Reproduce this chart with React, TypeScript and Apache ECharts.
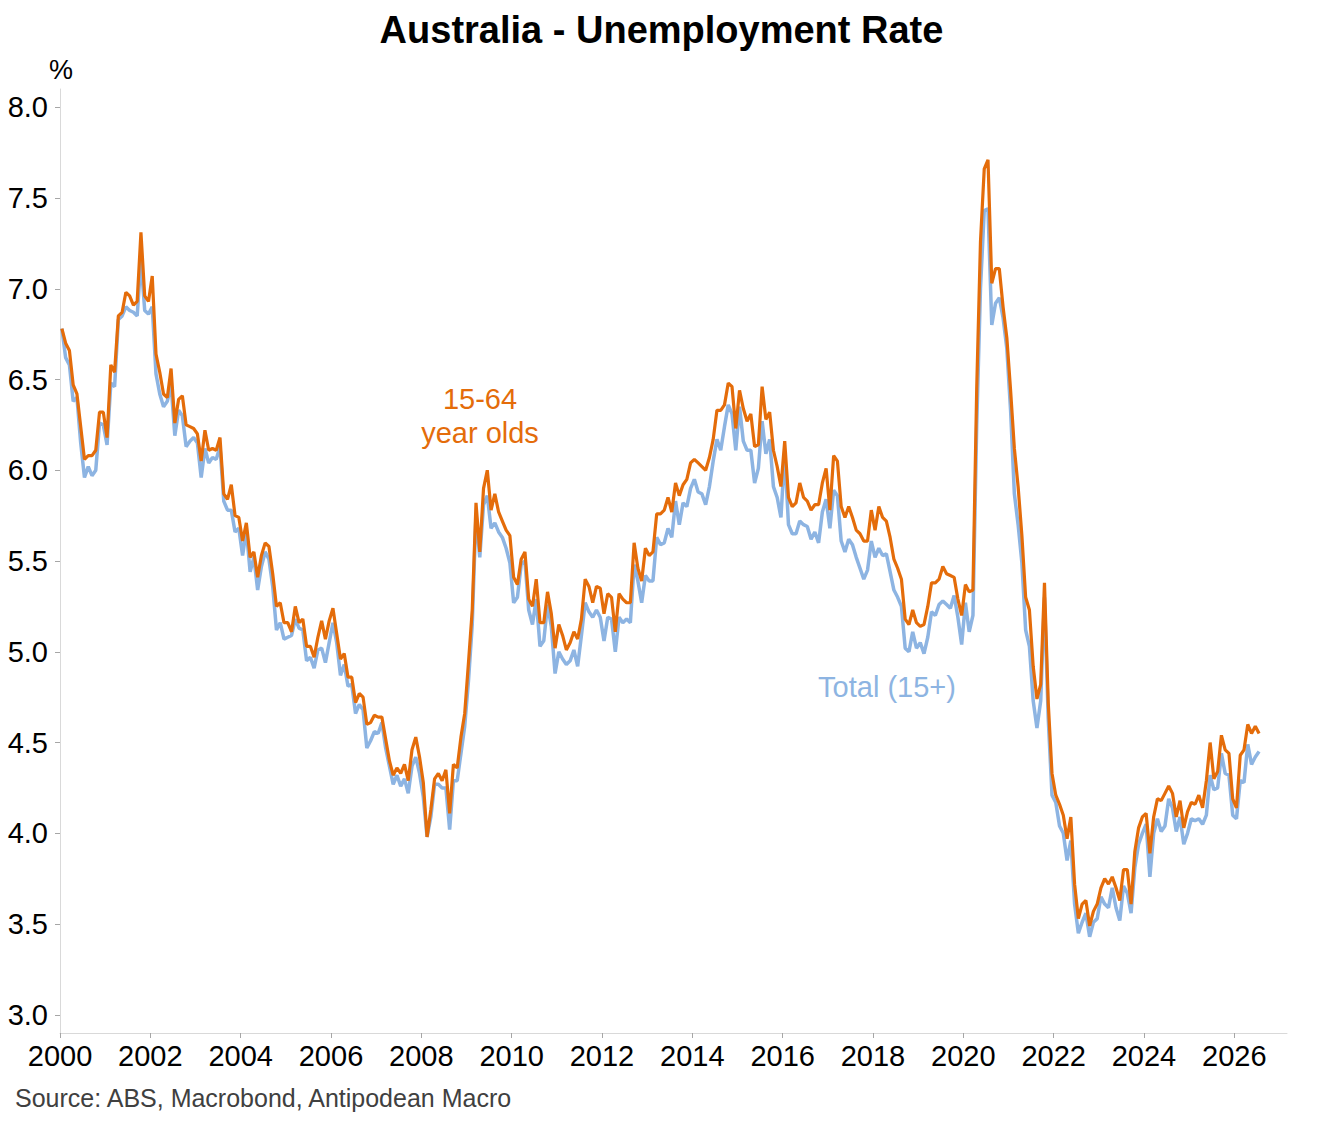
import React, { useEffect, useRef } from "react";
import * as echarts from "echarts";

// Monthly data, Jan 2000 .. Jul 2026 (%)
const startYear = 2000;

const ages15to64 = [
  // 2000
  6.78, 6.70, 6.66, 6.47, 6.42, 6.24, 6.06, 6.08, 6.08, 6.11, 6.32, 6.32,
  // 2001
  6.18, 6.58, 6.54, 6.85, 6.87, 6.98, 6.96, 6.91, 6.93, 7.31, 6.96, 6.93,
  // 2002
  7.07, 6.64, 6.54, 6.42, 6.40, 6.56, 6.26, 6.39, 6.41, 6.25, 6.24, 6.23,
  // 2003
  6.20, 6.05, 6.22, 6.11, 6.12, 6.11, 6.18, 5.87, 5.84, 5.92, 5.75, 5.74,
  // 2004
  5.61, 5.71, 5.52, 5.55, 5.41, 5.53, 5.60, 5.58, 5.43, 5.25, 5.27, 5.16,
  // 2005
  5.16, 5.11, 5.25, 5.16, 5.18, 5.03, 5.03, 4.97, 5.08, 5.17, 5.07, 5.17,
  // 2006
  5.24, 5.10, 4.96, 4.99, 4.86, 4.86, 4.72, 4.77, 4.75, 4.60, 4.61, 4.65,
  // 2007
  4.64, 4.64, 4.52, 4.40, 4.32, 4.36, 4.33, 4.38, 4.29, 4.46, 4.53, 4.42,
  // 2008
  4.28, 3.98, 4.13, 4.30, 4.33, 4.29, 4.35, 4.11, 4.38, 4.36, 4.53, 4.66,
  // 2009
  4.94, 5.23, 5.82, 5.55, 5.90, 6.00, 5.78, 5.87, 5.77, 5.72, 5.67, 5.64,
  // 2010
  5.41, 5.37, 5.51, 5.55, 5.29, 5.25, 5.40, 5.16, 5.16, 5.33, 5.21, 5.02,
  // 2011
  5.15, 5.09, 5.01, 5.05, 5.11, 5.07, 5.18, 5.40, 5.36, 5.27, 5.36, 5.35,
  // 2012
  5.21, 5.32, 5.30, 5.11, 5.32, 5.29, 5.27, 5.27, 5.60, 5.46, 5.39, 5.57,
  // 2013
  5.53, 5.55, 5.76, 5.76, 5.78, 5.85, 5.77, 5.93, 5.86, 5.92, 5.95, 6.04,
  // 2014
  6.06, 6.04, 6.02, 6.00, 6.07, 6.17, 6.33, 6.33, 6.36, 6.48, 6.46, 6.23,
  // 2015
  6.44, 6.34, 6.27, 6.31, 6.13, 6.14, 6.46, 6.28, 6.32, 6.11, 6.02, 5.91,
  // 2016
  6.16, 5.85, 5.80, 5.82, 5.93, 5.85, 5.83, 5.78, 5.81, 5.81, 5.93, 6.01,
  // 2017
  5.78, 6.08, 6.05, 5.80, 5.74, 5.80, 5.74, 5.67, 5.65, 5.61, 5.61, 5.78,
  // 2018
  5.67, 5.80, 5.74, 5.72, 5.63, 5.51, 5.46, 5.40, 5.18, 5.15, 5.23, 5.16,
  // 2019
  5.14, 5.15, 5.25, 5.38, 5.38, 5.40, 5.47, 5.43, 5.42, 5.41, 5.29, 5.20,
  // 2020
  5.37, 5.33, 5.34, 6.45, 7.26, 7.66, 7.71, 7.03, 7.11, 7.11, 6.90, 6.73,
  // 2021
  6.44, 6.12, 5.91, 5.64, 5.30, 5.23, 4.92, 4.74, 4.82, 5.38, 4.72, 4.33,
  // 2022
  4.21, 4.16, 4.10, 3.97, 4.09, 3.72, 3.53, 3.61, 3.63, 3.49, 3.57, 3.61,
  // 2023
  3.70, 3.75, 3.72, 3.76, 3.70, 3.63, 3.80, 3.80, 3.61, 3.90, 4.03, 4.09,
  // 2024
  4.11, 3.89, 4.09, 4.19, 4.18, 4.22, 4.26, 4.22, 4.09, 4.18, 4.03, 4.12,
  // 2025
  4.17, 4.16, 4.21, 4.14, 4.29, 4.50, 4.30, 4.34, 4.54, 4.46, 4.44, 4.19,
  // 2026
  4.14, 4.43, 4.46, 4.60, 4.55, 4.59, 4.55,
];

const total15plus = [
  // 2000
  6.78, 6.62, 6.58, 6.38, 6.40, 6.15, 5.96, 6.02, 5.97, 6.00, 6.26, 6.25,
  // 2001
  6.14, 6.48, 6.46, 6.83, 6.85, 6.90, 6.88, 6.87, 6.85, 7.16, 6.88, 6.86,
  // 2002
  6.90, 6.53, 6.42, 6.35, 6.38, 6.47, 6.19, 6.33, 6.30, 6.13, 6.16, 6.18,
  // 2003
  6.15, 5.96, 6.12, 6.04, 6.07, 6.06, 6.13, 5.83, 5.78, 5.78, 5.66, 5.68,
  // 2004
  5.53, 5.67, 5.44, 5.52, 5.34, 5.47, 5.55, 5.51, 5.36, 5.12, 5.16, 5.07,
  // 2005
  5.08, 5.09, 5.18, 5.13, 5.12, 4.95, 4.97, 4.91, 5.01, 5.02, 4.94, 5.05,
  // 2006
  5.16, 5.05, 4.87, 4.93, 4.81, 4.82, 4.66, 4.71, 4.68, 4.47, 4.51, 4.56,
  // 2007
  4.55, 4.61, 4.47, 4.37, 4.27, 4.32, 4.26, 4.30, 4.22, 4.37, 4.42, 4.33,
  // 2008
  4.20, 3.98, 4.09, 4.27, 4.27, 4.25, 4.25, 4.02, 4.29, 4.29, 4.44, 4.59,
  // 2009
  4.84, 5.15, 5.76, 5.52, 5.81, 5.86, 5.68, 5.71, 5.66, 5.63, 5.57, 5.49,
  // 2010
  5.27, 5.30, 5.48, 5.50, 5.23, 5.15, 5.29, 5.03, 5.06, 5.26, 5.14, 4.88,
  // 2011
  5.00, 4.96, 4.93, 4.95, 5.01, 4.92, 5.09, 5.27, 5.22, 5.19, 5.23, 5.19,
  // 2012
  5.06, 5.19, 5.18, 5.00, 5.19, 5.16, 5.18, 5.16, 5.48, 5.39, 5.27, 5.42,
  // 2013
  5.39, 5.39, 5.63, 5.59, 5.60, 5.68, 5.63, 5.83, 5.70, 5.82, 5.80, 5.90,
  // 2014
  5.95, 5.88, 5.87, 5.81, 5.91, 6.05, 6.17, 6.11, 6.24, 6.36, 6.31, 6.11,
  // 2015
  6.35, 6.16, 6.11, 6.11, 5.93, 6.01, 6.27, 6.09, 6.17, 5.91, 5.85, 5.74,
  // 2016
  6.10, 5.70, 5.65, 5.65, 5.72, 5.70, 5.69, 5.62, 5.66, 5.60, 5.77, 5.84,
  // 2017
  5.68, 5.89, 5.86, 5.61, 5.55, 5.62, 5.59, 5.52, 5.46, 5.40, 5.45, 5.61,
  // 2018
  5.52, 5.57, 5.53, 5.54, 5.44, 5.34, 5.30, 5.25, 5.02, 5.00, 5.11, 5.02,
  // 2019
  5.05, 4.99, 5.08, 5.22, 5.20, 5.26, 5.28, 5.26, 5.24, 5.31, 5.19, 5.04,
  // 2020
  5.27, 5.11, 5.20, 6.25, 7.00, 7.43, 7.44, 6.80, 6.92, 6.95, 6.84, 6.67,
  // 2021
  6.33, 5.87, 5.70, 5.49, 5.12, 5.03, 4.73, 4.58, 4.73, 5.30, 4.63, 4.21,
  // 2022
  4.17, 4.04, 4.00, 3.85, 3.96, 3.61, 3.45, 3.51, 3.56, 3.43, 3.51, 3.53,
  // 2023
  3.65, 3.61, 3.59, 3.70, 3.59, 3.52, 3.71, 3.67, 3.56, 3.81, 3.94, 4.00,
  // 2024
  4.05, 3.76, 4.00, 4.08, 4.01, 4.04, 4.19, 4.14, 4.01, 4.09, 3.94, 4.00,
  // 2025
  4.08, 4.07, 4.08, 4.05, 4.10, 4.32, 4.24, 4.25, 4.44, 4.33, 4.32, 4.10,
  // 2026
  4.08, 4.29, 4.28, 4.49, 4.38, 4.42, 4.45,
];

const xTickStart = 2000;
const xTickEnd = 2026;
const xTickStep = 2;
const yTickMin = 3.0;
const yTickMax = 8.0;
const yTickStep = 0.5;

const titleText = "Australia - Unemployment Rate";
const sourceText = "Source: ABS, Macrobond, Antipodean Macro";
const unitText = "%";
const label1564 = ["15-64", "year olds"];
const labelTotal = "Total (15+)";

const ORANGE = "#E46C0A";
const BLUE = "#8DB4E2";
const FONT = "'Liberation Sans', Arial, Helvetica, sans-serif";

// mid-month position in decimal years
const toPoints = (vals: number[]) =>
  vals.map((v, i) => [startYear + (i + 0.5) / 12, v]);

export default function App() {
  const ref = useRef<HTMLDivElement>(null);

  useEffect(() => {
    if (!ref.current) return;
    const chart = echarts.init(ref.current, undefined, { renderer: "svg" });

    const axisColor = "#D9D9D9";
    const tickColor = "#A6A6A6";

    const option: any = {
      animation: false,
      backgroundColor: "#ffffff",
      title: {
        text: titleText,
        left: "center",
        top: 6,
        textStyle: {
          fontFamily: FONT,
          fontSize: 38,
          fontWeight: "bold",
          color: "#000000",
        },
      },
      grid: [
        { left: 60, right: 36, top: 89, bottom: 89 },
        { left: 60, top: 107.3, width: 1174.3, height: 907.7 },
      ],
      xAxis: [
        {
          type: "value",
          gridIndex: 0,
          min: 2000,
          max: 2027.16,
          axisLine: { show: true, lineStyle: { color: axisColor, width: 1 } },
          axisTick: { show: false },
          axisLabel: { show: false },
          splitLine: { show: false },
        },
        {
          type: "value",
          gridIndex: 1,
          min: xTickStart,
          max: xTickEnd,
          interval: xTickStep,
          position: "bottom",
          offset: 18,
          axisLine: { show: false },
          axisTick: { show: true, length: 5, lineStyle: { color: tickColor } },
          axisLabel: {
            show: true,
            margin: 8,
            fontFamily: FONT,
            fontSize: 29,
            color: "#000000",
            formatter: (v: number) => String(Math.round(v)),
          },
          splitLine: { show: false },
        },
      ],
      yAxis: [
        {
          type: "value",
          gridIndex: 0,
          min: 2.9,
          max: 8.1,
          axisLine: { show: true, lineStyle: { color: axisColor, width: 1 } },
          axisTick: { show: false },
          axisLabel: { show: false },
          splitLine: { show: false },
        },
        {
          type: "value",
          gridIndex: 1,
          min: yTickMin,
          max: yTickMax,
          interval: yTickStep,
          axisLine: { show: false },
          axisTick: { show: true, length: 5, lineStyle: { color: tickColor } },
          axisLabel: {
            show: true,
            margin: 12,
            fontFamily: FONT,
            fontSize: 29,
            color: "#000000",
            formatter: (v: number) => v.toFixed(1),
          },
          splitLine: { show: false },
        },
      ],
      series: [
        {
          name: labelTotal,
          type: "line",
          xAxisIndex: 0,
          yAxisIndex: 0,
          data: toPoints(total15plus),
          symbol: "none",
          showSymbol: false,
          lineStyle: { color: BLUE, width: 3.5 },
          z: 2,
        },
        {
          name: label1564.join(" "),
          type: "line",
          xAxisIndex: 0,
          yAxisIndex: 0,
          data: toPoints(ages15to64),
          symbol: "none",
          showSymbol: false,
          lineStyle: { color: ORANGE, width: 3.2 },
          z: 3,
        },
        {
          type: "line",
          xAxisIndex: 1,
          yAxisIndex: 1,
          data: [],
          silent: true,
        },
      ],
      graphic: [
        {
          type: "text",
          x: 61,
          y: 70,
          style: {
            text: unitText,
            fontFamily: FONT,
            fontSize: 27,
            fill: "#000000",
            textAlign: "center",
            textVerticalAlign: "middle",
          },
        },
        {
          type: "text",
          x: 480,
          y: 399,
          style: {
            text: label1564[0],
            fontFamily: FONT,
            fontSize: 29,
            fill: ORANGE,
            textAlign: "center",
            textVerticalAlign: "middle",
          },
        },
        {
          type: "text",
          x: 480,
          y: 433,
          style: {
            text: label1564[1],
            fontFamily: FONT,
            fontSize: 29,
            fill: ORANGE,
            textAlign: "center",
            textVerticalAlign: "middle",
          },
        },
        {
          type: "text",
          x: 887,
          y: 687,
          style: {
            text: labelTotal,
            fontFamily: FONT,
            fontSize: 29,
            fill: BLUE,
            textAlign: "center",
            textVerticalAlign: "middle",
          },
        },
        {
          type: "text",
          x: 15,
          y: 1098,
          style: {
            text: sourceText,
            fontFamily: FONT,
            fontSize: 25,
            fill: "#404040",
            textAlign: "left",
            textVerticalAlign: "middle",
          },
        },
      ],
    };

    chart.setOption(option);
    return () => {
      chart.dispose();
    };
  }, []);

  return (
    <div
      ref={ref}
      style={{
        position: "absolute",
        left: 0,
        top: 0,
        width: 1323,
        height: 1122,
        background: "#ffffff",
      }}
    />
  );
}
